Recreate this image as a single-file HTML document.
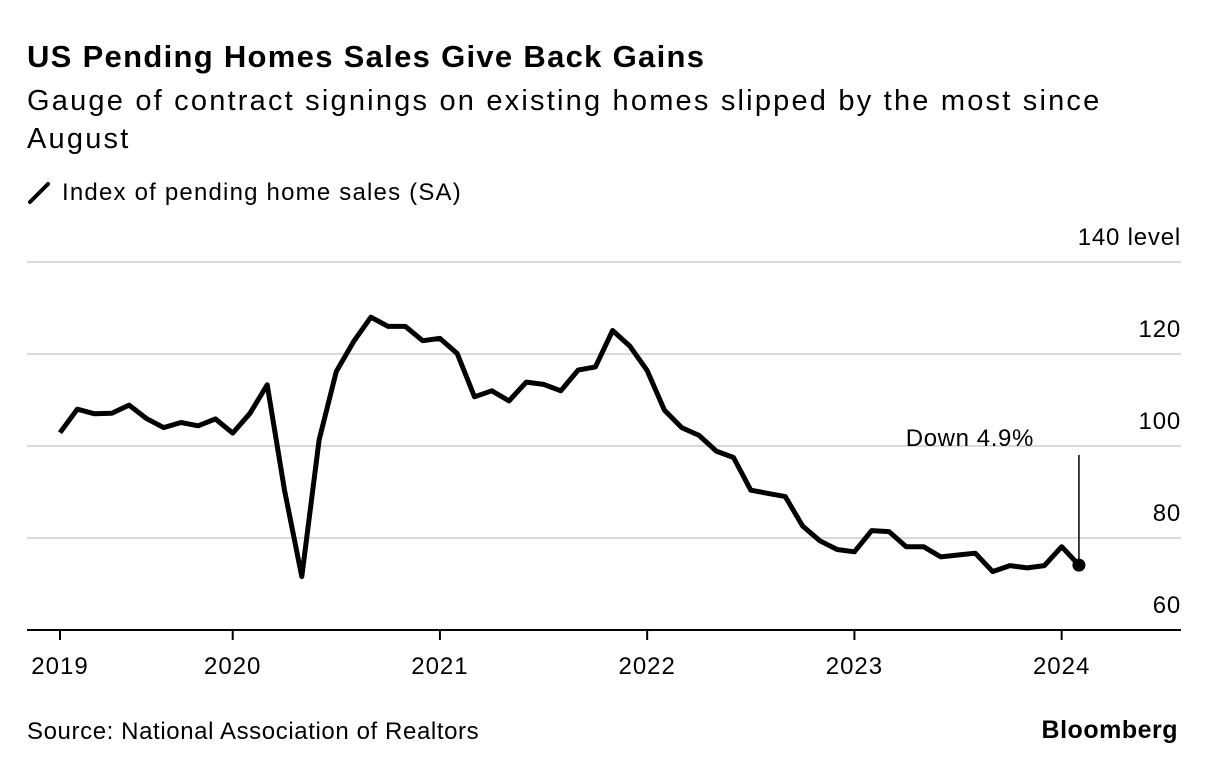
<!DOCTYPE html>
<html><head><meta charset="utf-8"><style>
body{margin:0;width:1214px;height:772px;background:#fff;font-family:"Liberation Sans",sans-serif;color:#000;overflow:hidden;position:relative}
.t{position:absolute;white-space:nowrap}
</style></head><body>
<div class="t" style="left:27px;top:39px;font-size:31px;font-weight:bold;letter-spacing:1.3px">US Pending Homes Sales Give Back Gains</div>
<div class="t" style="left:27px;top:82px;font-size:29px;line-height:38px;white-space:normal;width:1150px;letter-spacing:2.2px">Gauge of contract signings on existing homes slipped by the most since August</div>
<div style="position:absolute;left:27px;top:178px;height:30px">
<svg width="26" height="30" style="position:absolute;left:0;top:0"><line x1="3" y1="24" x2="21" y2="6" stroke="#000" stroke-width="4" stroke-linecap="round"/></svg>
<span class="t" style="left:35px;top:1px;font-size:24px;letter-spacing:1.2px">Index of pending home sales (SA)</span></div>
<svg id="chart" width="1214" height="772" style="position:absolute;left:0;top:0"></svg>
<div class="t" style="left:27px;top:718px;font-size:24px;letter-spacing:0.6px">Source: National Association of Realtors</div>
<div class="t" style="right:36px;top:716px;font-size:25px;font-weight:bold;letter-spacing:0.5px">Bloomberg</div>
<script>
const values=[102.9,108.0,107.0,107.1,108.9,106.0,104.0,105.1,104.4,105.9,102.8,107.1,113.3,90.4,71.6,101.3,116.2,122.7,128.0,126.0,126.0,122.9,123.4,120.1,110.7,112.0,109.8,113.9,113.4,112.0,116.5,117.2,125.1,121.7,116.4,107.8,104.0,102.3,98.9,97.5,90.4,89.7,89.0,82.6,79.4,77.5,77.0,81.6,81.4,78.1,78.1,75.9,76.3,76.7,72.7,74.0,73.5,74.0,78.1,74.1];
const yTicks=[60,80,100,120,140];
const yTickLabels=["60","80","100","120","140 level"];
const xYears=["2019","2020","2021","2022","2023","2024"];
const xYearIdx=[0,10,22,34,46,58];
const annotation="Down 4.9%";
const svg=document.getElementById('chart');
const NS='http://www.w3.org/2000/svg';
const X=i=>60+i*17.27;
const Y=v=>630-(v-60)*4.6;
const FONT='Liberation Sans, sans-serif';
function mk(t,a){const e=document.createElementNS(NS,t);for(const k in a)e.setAttribute(k,a[k]);svg.appendChild(e);return e;}
yTicks.forEach((v,k)=>{
  if(v>60){const g=mk('line',{x1:27,x2:1181,y1:Y(v),y2:Y(v),stroke:'#d9d9d9','stroke-width':2});
  
  }
  const t=mk('text',{x:1181,y:Y(v)-17,'text-anchor':'end','font-size':24,'letter-spacing':0.8,'font-family':FONT});
  
  
  t.textContent=yTickLabels[k];
});
const ax=mk('line',{x1:27,x2:1181,y1:630,y2:630,stroke:'#000','stroke-width':2});


xYears.forEach((y,k)=>{
  const x=X(xYearIdx[k]);
  const tk=mk('line',{x1:x,x2:x,y1:630,y2:640,stroke:'#000','stroke-width':2});
  
  
  const t=mk('text',{x:x,y:674,'text-anchor':'middle','font-size':24,'letter-spacing':1,'font-family':FONT});
  
  
  t.textContent=y;
});
const pts=values.map((v,i)=>X(i).toFixed(1)+','+Y(v).toFixed(1)).join(' ');
const line=mk('polyline',{points:pts,fill:'none',stroke:'#000','stroke-width':5,'stroke-linejoin':'round'});


const li=values.length-1;
const al=mk('line',{x1:X(li),x2:X(li),y1:455,y2:Y(values[li]),stroke:'#000','stroke-width':1.5});


const dot=mk('circle',{cx:X(li),cy:Y(values[li]),r:6.5,fill:'#000'});


const at=mk('text',{x:X(li)-45,y:446,'text-anchor':'end','font-size':24,'letter-spacing':0.6,'font-family':FONT});


at.textContent=annotation;
</script>
</body></html>
